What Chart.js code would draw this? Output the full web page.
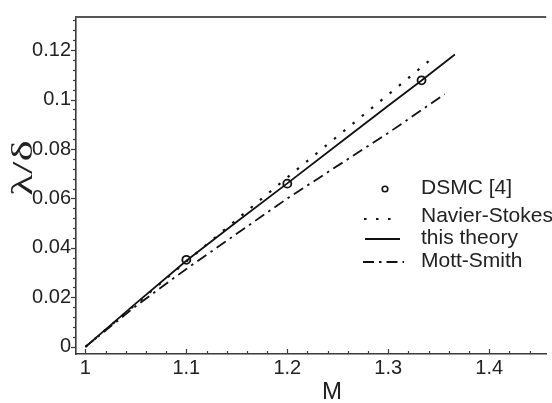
<!DOCTYPE html>
<html>
<head>
<meta charset="utf-8">
<script src="https://cdn.jsdelivr.net/npm/chart.js@4.4.0/dist/chart.umd.min.js"></script>
<style>
html,body{margin:0;padding:0;background:#fff;}
#wrap{width:552px;height:403px;position:relative;}
</style>
</head>
<body>
<div id="wrap"><canvas id="c" width="552" height="403"></canvas></div>
<script>
// ---- data ----
const xTickLabels = [1, 1.1, 1.2, 1.3, 1.4];
const yTickLabels = [0, 0.02, 0.04, 0.06, 0.08, 0.1, 0.12];

const dsmcM      = [1.1, 1.2, 1.333];
const dsmcValues = [0.0352, 0.066, 0.1078];

const nsM      = [1, 1.1, 1.2, 1.3, 1.34];
const nsValues = [0, 0.0345, 0.0685, 0.102, 0.1155];

const theoryM      = [1, 1.05, 1.1, 1.15, 1.2, 1.25, 1.3, 1.333, 1.366];
const theoryValues = [0, 0.0176, 0.0348, 0.0506, 0.0661, 0.0818, 0.0975, 0.1077, 0.1182];

const msM      = [1, 1.05, 1.1, 1.2, 1.3, 1.356];
const msValues = [0, 0.0165, 0.0315, 0.060, 0.0865, 0.1022];

const seriesNames = ['DSMC [4]', 'Navier-Stokes', 'this theory', 'Mott-Smith'];

const toXY = (xs, ys) => xs.map((x, i) => ({x: x, y: ys[i]}));

const INK = '#111';
const AXIS = '#3a3a3a';
const SANS = '"Liberation Sans", Arial, sans-serif';

const decoPlugin = {
  id: 'deco',
  afterDraw(chart) {
    const ctx = chart.ctx;
    const ca = chart.chartArea;
    const xs = chart.scales.x, ys = chart.scales.y;
    ctx.save();
    // top border
    ctx.strokeStyle = '#555';
    ctx.lineWidth = 2;
    ctx.beginPath();
    ctx.moveTo(ca.left - 1, ca.top);
    ctx.lineTo(ca.right, ca.top);
    ctx.stroke();
    // y ticks (outward)
    ctx.strokeStyle = AXIS;
    ctx.lineWidth = 1.2;
    for (let k = 0; k <= 33; k++) {
      const v = k * 0.004;
      if (v > ys.max) break;
      const p = Math.round(ys.getPixelForValue(v)) + 0.5;
      const len = (k % 5 === 0) ? 5 : 3;
      ctx.beginPath();
      ctx.moveTo(ca.left - len, p);
      ctx.lineTo(ca.left, p);
      ctx.stroke();
    }
    // x ticks (inward)
    for (let k = 0; k <= 25; k++) {
      const v = 1 + k * 0.02;
      if (v > xs.max) break;
      const p = Math.round(xs.getPixelForValue(v)) + 0.5;
      const len = (k % 5 === 0) ? 5 : 3;
      ctx.beginPath();
      ctx.moveTo(p, ca.bottom);
      ctx.lineTo(p, ca.bottom - len);
      ctx.stroke();
    }
    // axis titles
    ctx.fillStyle = '#222';
    ctx.font = '24px ' + SANS;
    ctx.textAlign = 'center';
    ctx.textBaseline = 'alphabetic';
    ctx.fillText('M', (ca.left + ca.right) / 2 + 21, 399);

    ctx.save();
    ctx.translate(32, 168);
    ctx.rotate(-Math.PI / 2);
    ctx.scale(1.55, 1);
    ctx.font = '29px "Liberation Serif", "Times New Roman", serif';
    ctx.textAlign = 'center';
    ctx.textBaseline = 'alphabetic';
    ctx.fillText('\u03bb/\u03b4', 0, 0);
    ctx.restore();

    // legend
    const rows = [187, 215, 237, 260];
    const textX = 421;
    ctx.font = '21px ' + SANS;
    ctx.textAlign = 'left';
    ctx.textBaseline = 'middle';
    chart.data.datasets.forEach((ds, i) => {
      const y = rows[i];
      ctx.fillStyle = '#222';
      ctx.fillText(ds.label, textX, y + 1);
      ctx.strokeStyle = INK;
      if (i === 0) {
        ctx.lineWidth = 1.6;
        ctx.beginPath();
        ctx.arc(385, y + 2, 2.8, 0, Math.PI * 2);
        ctx.stroke();
      } else {
        ctx.lineWidth = ds.borderWidth;
        ctx.setLineDash(ds.borderDash || []);
        ctx.beginPath();
        if (i === 1) { ctx.moveTo(364, y + 4); ctx.lineTo(392, y + 4); }
        else if (i === 2) { ctx.moveTo(365, y + 2); ctx.lineTo(400, y + 2); }
        else { ctx.moveTo(363, y + 2); ctx.lineTo(404, y + 2); }
        ctx.stroke();
        ctx.setLineDash([]);
      }
    });
    ctx.restore();
  }
};

new Chart(document.getElementById('c'), {
  type: 'line',
  data: {
    datasets: [
      {
        label: seriesNames[0],
        data: toXY(dsmcM, dsmcValues),
        showLine: false,
        pointRadius: 4,
        pointBorderWidth: 1.8,
        pointBorderColor: INK,
        pointBackgroundColor: 'rgba(0,0,0,0)',
        borderColor: INK,
        order: 0
      },
      {
        label: seriesNames[1],
        data: toXY(nsM, nsValues),
        borderColor: INK,
        borderWidth: 2.2,
        borderDash: [2.5, 9.5],
        pointRadius: 0,
        tension: 0,
        order: 1
      },
      {
        label: seriesNames[2],
        data: toXY(theoryM, theoryValues),
        borderColor: INK,
        borderWidth: 1.8,
        pointRadius: 0,
        tension: 0,
        order: 2
      },
      {
        label: seriesNames[3],
        data: toXY(msM, msValues),
        borderColor: INK,
        borderWidth: 1.8,
        borderDash: [11, 5, 2.5, 5],
        pointRadius: 0,
        tension: 0,
        order: 3
      }
    ]
  },
  options: {
    responsive: false,
    animation: false,
    devicePixelRatio: 1,
    layout: { padding: { top: 9, right: 0, left: 0, bottom: 0 } },
    plugins: { legend: { display: false }, tooltip: { enabled: false } },
    scales: {
      x: {
        type: 'linear',
        min: 0.9907,
        max: 1.4565,
        afterBuildTicks: (s) => { s.ticks = xTickLabels.map(v => ({value: v})); },
        afterFit: (s) => { s.height = 49; },
        grid: { display: false, drawTicks: false },
        border: { display: true, color: AXIS, width: 1.6 },
        ticks: {
          padding: 2,
          color: '#222',
          font: { family: SANS, size: 20 },
          maxRotation: 0,
          callback: (v) => String(+Number(v).toFixed(2))
        }
      },
      y: {
        type: 'linear',
        min: -0.0029,
        max: 0.1334,
        afterBuildTicks: (s) => { s.ticks = yTickLabels.map(v => ({value: v})); },
        afterFit: (s) => { s.width = 76; },
        grid: { display: false, drawTicks: false },
        border: { display: true, color: AXIS, width: 1.6 },
        ticks: {
          padding: 5,
          color: '#222',
          font: { family: SANS, size: 20 },
          callback: (v) => String(+Number(v).toFixed(2))
        }
      }
    }
  },
  plugins: [decoPlugin]
});
</script>
</body>
</html>
